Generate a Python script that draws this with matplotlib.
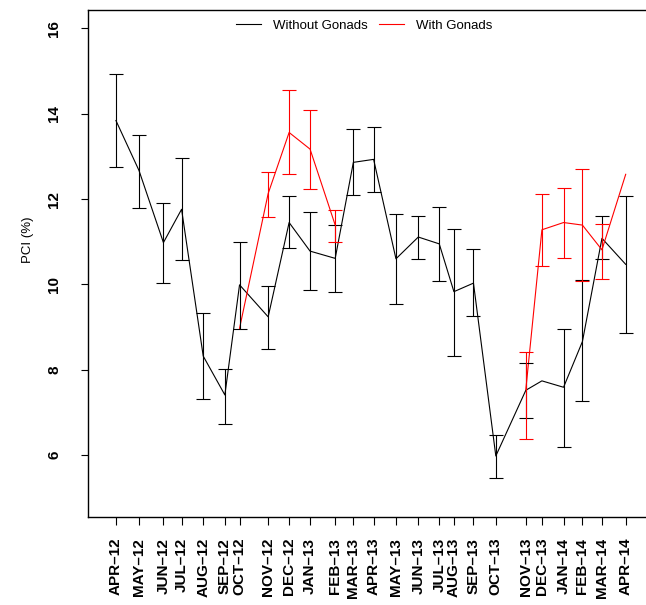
import matplotlib
matplotlib.use("Agg")
import matplotlib.pyplot as plt
import numpy as np

plt.rcParams["font.family"] = ["Liberation Sans", "DejaVu Sans"]

# Datos
months = ["APR–12", "MAY–12", "JUN–12", "JUL–12", "AUG–12", "SEP–12", "OCT–12",
          "NOV–12", "DEC–12", "JAN–13", "FEB–13", "MAR–13", "APR–13", "MAY–13",
          "JUN–13", "JUL–13", "AUG–13", "SEP–13", "OCT–13", "NOV–13", "DEC–13",
          "JAN–14", "FEB–14", "MAR–14", "APR–14"]
sample_day = [0, 33, 68, 94, 125, 156, 177, 218, 248, 278, 314, 340, 369, 401,
              433, 463, 484, 512, 544, 587, 610, 641, 668, 696, 730]

# sin gónadas
pci_without = [13.84, 12.67, 10.98, 11.76, 8.32, 7.41, 9.99, 9.24, 11.45, 10.78,
               10.61, 12.86, 12.93, 10.60, 11.11, 10.95, 9.83, 10.03, 5.98, 7.52,
               7.74, 7.59, 8.66, 11.08, 10.47]
without_hi = [14.93, 13.51, 11.90, 12.97, 9.33, 8.02, 10.99, 9.97, 12.06, 11.69,
              11.39, 13.64, 13.70, 11.64, 11.61, 11.81, 11.29, 10.83, 6.46, 8.15,
              np.nan, 8.95, 10.10, 11.60, 12.06]
without_lo = [12.75, 11.78, 10.04, 10.57, 7.31, 6.73, 8.95, 8.49, 10.86, 9.86,
              9.83, 12.09, 12.16, 9.55, 10.60, 10.09, 8.33, 9.26, 5.46, 6.88,
              np.nan, 6.19, 7.26, 10.59, 8.87]

# con gónadas
pci_with = [np.nan, np.nan, np.nan, np.nan, np.nan, np.nan, 8.97, 12.13, 13.56, 13.17,
            11.39, np.nan, np.nan, np.nan, np.nan, np.nan, np.nan, np.nan, np.nan, 7.54,
            11.28, 11.45, 11.39, 10.81, 12.58]
with_hi = [np.nan, np.nan, np.nan, np.nan, np.nan, np.nan, np.nan, 12.64, 14.55, 14.08,
           11.74, np.nan, np.nan, np.nan, np.nan, np.nan, np.nan, np.nan, np.nan, 8.41,
           12.12, 12.27, 12.71, 11.42, np.nan]
with_lo = [np.nan, np.nan, np.nan, np.nan, np.nan, np.nan, np.nan, 11.58, 12.59, 12.23,
           11.00, np.nan, np.nan, np.nan, np.nan, np.nan, np.nan, np.nan, np.nan, 6.37,
           10.43, 10.61, 10.09, 10.12, np.nan]


def bars(ax, x, lo, hi, color):
    for xi, l, h in zip(x, lo, hi):
        if np.isnan(l) or np.isnan(h):
            continue
        ax.errorbar([xi], [(l + h) / 2], yerr=[[(h - l) / 2], [(h - l) / 2]],
                    fmt="none", ecolor=color, elinewidth=0.8, capsize=5, capthick=0.8)


def main():
    fig = plt.figure(figsize=(6.46, 6.05), dpi=100)
    ax = fig.add_axes([88 / 646, 1 - 517 / 605, 559 / 646, 507 / 605])

    x = np.array(sample_day, dtype=float)
    y_with = np.array(pci_with)
    seg = ~np.isnan(y_with)

    ax.plot(x, pci_without, color="black", lw=0.8, label="Without Gonads")
    # el rojo se corta donde no hay datos
    ax.plot(x, np.where(seg, y_with, np.nan), color="red", lw=0.8, label="With Gonads")
    bars(ax, x, np.array(without_lo), np.array(without_hi), "black")
    bars(ax, x, np.array(with_lo), np.array(with_hi), "red")

    ax.set_xlim(-40, 760.5)
    ax.set_ylim(4.55, 16.43)
    ax.set_yticks([6, 8, 10, 12, 14, 16])
    ax.set_yticklabels(["6", "8", "10", "12", "14", "16"], rotation=90, va="center",
                       fontsize=11, fontweight="bold")
    ax.set_xticks(x)
    ax.set_xticklabels(months, rotation=90, fontsize=11, fontweight="bold")
    ax.tick_params(axis="x", length=5.4, width=0.8, pad=9.5)
    ax.tick_params(axis="y", length=5.4, width=0.8, pad=14)
    for s in ax.spines.values():
        s.set_linewidth(1.0)

    fig.text(27.5 / 646, 1 - 240 / 605, "PCI (%)", rotation=90, ha="center", va="center",
             fontsize=9.5)

    ax.legend(loc="center", bbox_to_anchor=(0.494, 0.969), ncol=2, frameon=False,
              fontsize=9.5, handlelength=1.9, handletextpad=0.9, columnspacing=0.9)

    fig.savefig("out.png", dpi=100)


if __name__ == "__main__":
    main()
